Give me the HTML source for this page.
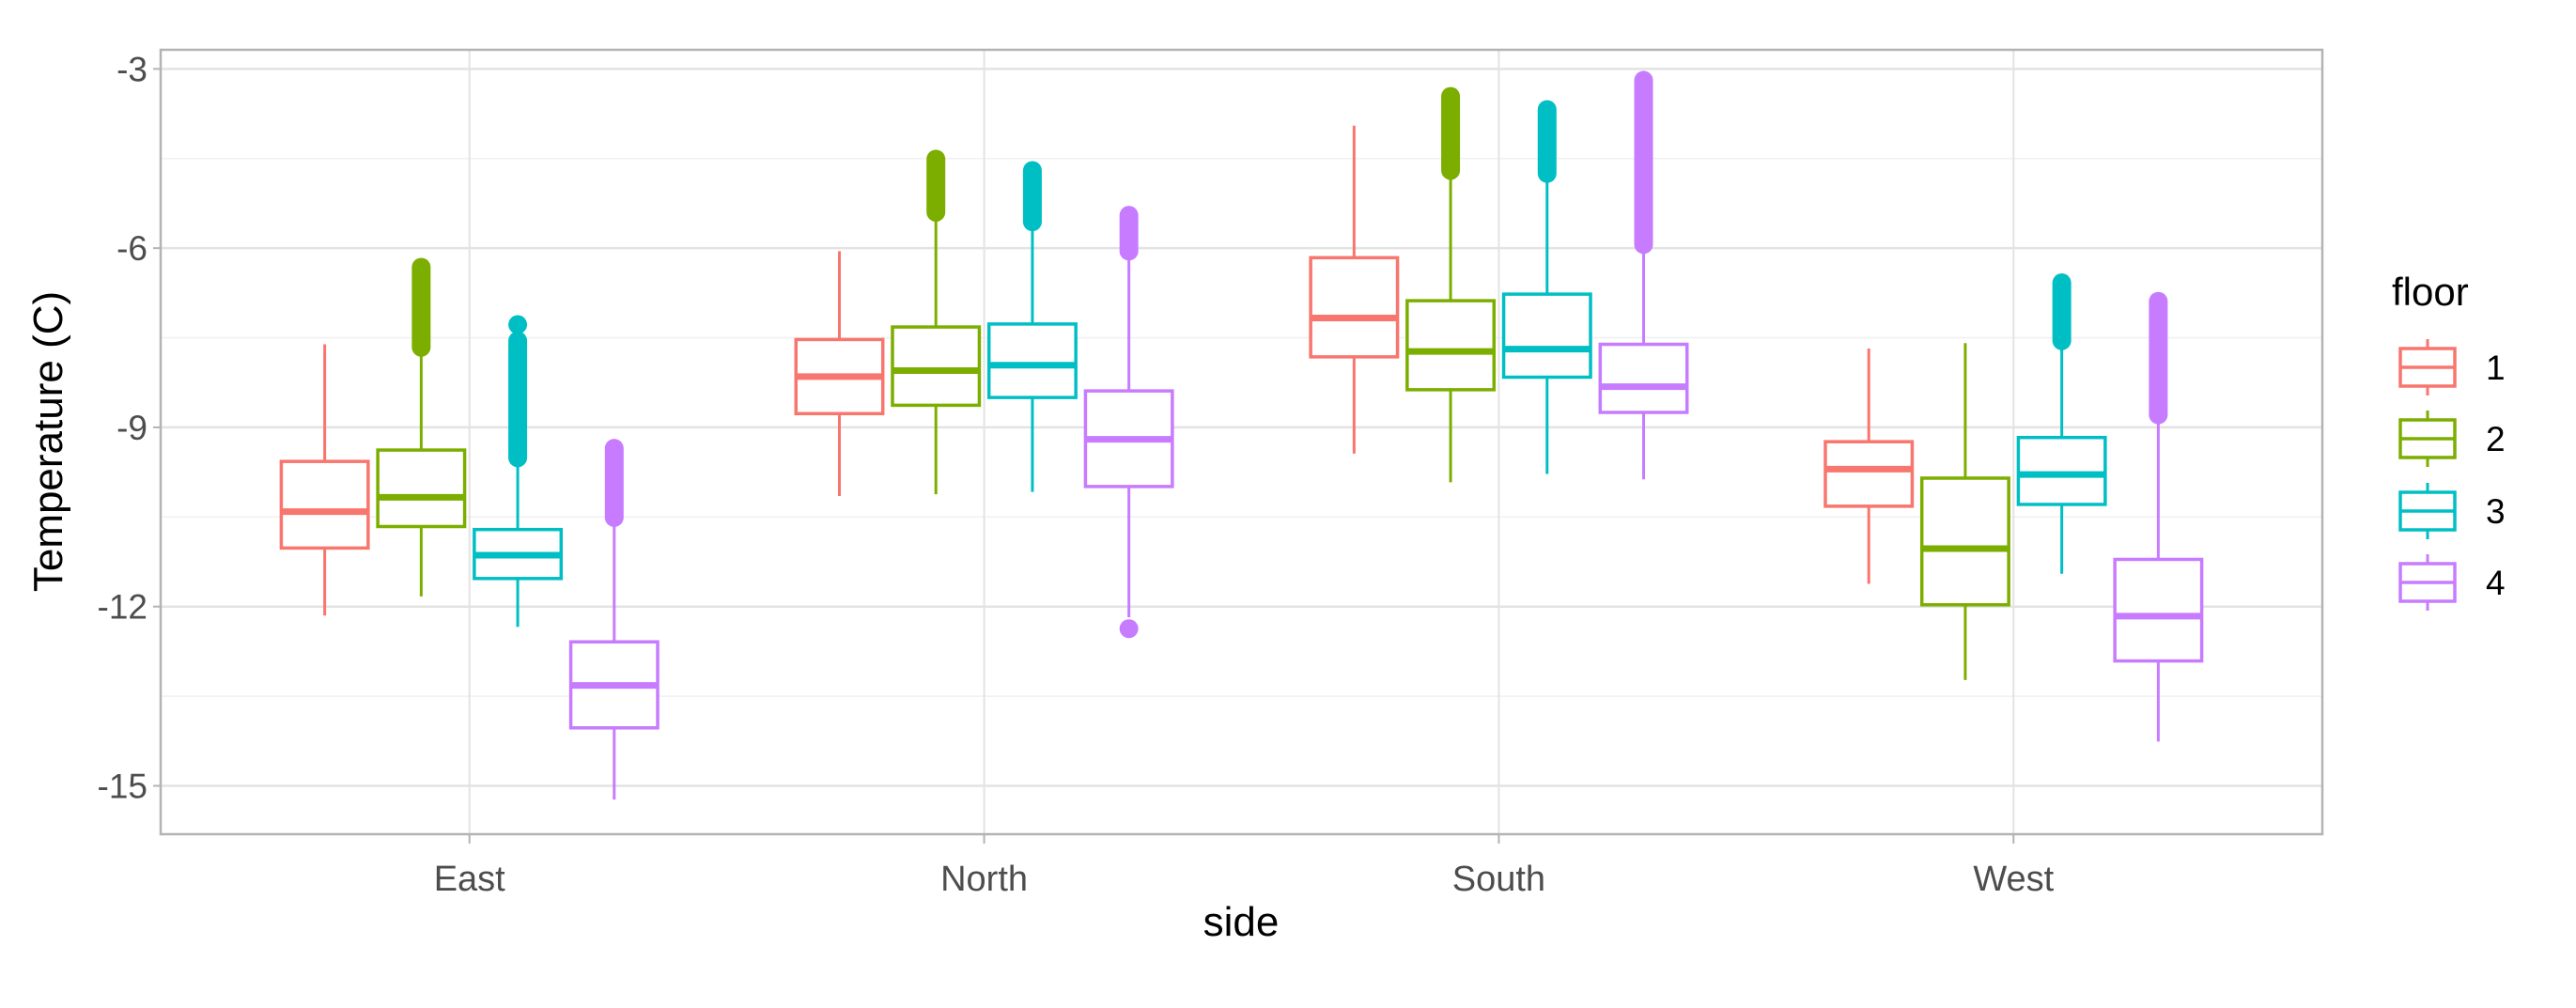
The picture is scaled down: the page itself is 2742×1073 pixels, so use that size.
<!DOCTYPE html>
<html><head><meta charset="utf-8"><style>
html,body{margin:0;padding:0;background:#fff;}
svg{display:block;font-family:"Liberation Sans",Arial,sans-serif;}
</style></head><body>
<svg id="chart" width="2742" height="1073" viewBox="0 0 2742 1073" xmlns="http://www.w3.org/2000/svg">
<g id="grid"></g>
<g id="marks"></g>
<g id="axes"></g>
<text transform="translate(66,470) rotate(-90)" text-anchor="middle" font-size="44" fill="#000">Temperature (C)</text>
<text x="1321" y="996" text-anchor="middle" font-size="44" fill="#000">side</text>
<g id="legend">
<text x="2546" y="325" font-size="42" fill="#000">floor</text>
</g>
</svg>
<script>
const categories = ["East","North","South","West"];
const floors = ["1","2","3","4"];
const colors = ["#F8766D","#7CAE00","#00BFC4","#C77CFF"];
// per floor arrays, indexed by category
const lowerWhisker = [[-12.15,-10.15,-9.44,-11.62],[-11.83,-10.12,-9.92,-13.23],[-12.34,-10.08,-9.78,-11.45],[-15.23,-12.18,-9.87,-14.26]];
const q1 = [[-11.02,-8.77,-7.82,-10.32],[-10.66,-8.63,-8.37,-11.97],[-11.53,-8.50,-8.16,-10.29],[-14.03,-9.99,-8.75,-12.91]];
const median = [[-10.41,-8.15,-7.17,-9.70],[-10.17,-8.05,-7.73,-11.03],[-11.14,-7.96,-7.69,-9.79],[-13.32,-9.20,-8.32,-12.16]];
const q3 = [[-9.57,-7.53,-6.16,-9.24],[-9.38,-7.32,-6.88,-9.85],[-10.71,-7.27,-6.77,-9.17],[-12.59,-8.39,-7.61,-11.21]];
const upperWhisker = [[-7.61,-6.05,-3.95,-7.68],[-7.66,-5.40,-4.70,-7.59],[-9.51,-5.56,-4.75,-7.55],[-10.51,-6.05,-5.94,-8.79]];
// dense outlier runs: [low, high] or null
const outlierRunLow = [[null,null,null,null],[-7.66,-5.40,-4.70,null],[-9.51,-5.56,-4.75,-7.55],[-10.51,-6.05,-5.94,-8.79]];
const outlierRunHigh = [[null,null,null,null],[-6.32,-4.51,-3.46,null],[-7.55,-4.70,-3.68,-6.58],[-9.35,-5.45,-3.19,-6.89]];
// isolated outliers: [floorIndex, categoryIndex, value]
const outlierPoints = [[2,0,-7.28],[3,1,-12.37]];
const yTicks = [-3,-6,-9,-12,-15];
const yMinor = [-4.5,-7.5,-10.5,-13.5];

const NS="http://www.w3.org/2000/svg";
const L=171,R=2472,T=53,B=888;
const yMin=-15.81,yMax=-2.68;
const y=v=>T+(yMax-v)/(yMax-yMin)*(B-T);
// discrete scale with 0.6 expansion on each side
const catStep=(R-L)/(categories.length-1+1.2);
const xCat=i=>L+catStep*(i+0.6);
const slot=catStep*0.75/floors.length;
const xBox=(c,f)=>xCat(c)+(f-1.5)*slot;
const bw=slot*0.9;
function mk(tag,attrs,parent){const e=document.createElementNS(NS,tag);for(const k in attrs)e.setAttribute(k,attrs[k]);parent.appendChild(e);return e;}
const grid=document.getElementById('grid'),marks=document.getElementById('marks'),axes=document.getElementById('axes'),legend=document.getElementById('legend');
mk('rect',{x:L,y:T,width:R-L,height:B-T,fill:'#fff'},grid);
yMinor.forEach(v=>{const l=mk('line',{x1:L,x2:R,y1:y(v),y2:y(v),stroke:'#f0f0f0','stroke-width':1.5},grid);

});
yTicks.forEach(v=>{const l=mk('line',{x1:L,x2:R,y1:y(v),y2:y(v),stroke:'#e3e3e3','stroke-width':2.5},grid);


const tk=mk('line',{x1:L-8,x2:L,y1:y(v),y2:y(v),stroke:'#b3b3b3','stroke-width':2},axes);


const t=mk('text',{x:L-14,y:y(v)+13,'text-anchor':'end','font-size':37,fill:'#4d4d4d'},axes);t.textContent=v;

});
categories.forEach((c,i)=>{const l=mk('line',{x1:xCat(i),x2:xCat(i),y1:T,y2:B,stroke:'#e3e3e3','stroke-width':2},grid);


const tk=mk('line',{x1:xCat(i),x2:xCat(i),y1:B,y2:B+10,stroke:'#b3b3b3','stroke-width':2},axes);


const t=mk('text',{x:xCat(i),y:948,'text-anchor':'middle','font-size':38,fill:'#4d4d4d'},axes);t.textContent=c;

});
const border=mk('rect',{x:L,y:T,width:R-L,height:B-T,fill:'none',stroke:'#b3b3b3','stroke-width':2.5},axes);


for(let f=0;f<floors.length;f++){for(let c=0;c<categories.length;c++){
 const g=mk('g',{},marks);
 
 
 const cx=xBox(c,f),col=colors[f];
 mk('line',{x1:cx,x2:cx,y1:y(lowerWhisker[f][c]),y2:y(q1[f][c]),stroke:col,'stroke-width':3},g);
 mk('line',{x1:cx,x2:cx,y1:y(upperWhisker[f][c]),y2:y(q3[f][c]),stroke:col,'stroke-width':3},g);
 mk('rect',{x:cx-bw/2,y:y(q3[f][c]),width:bw,height:y(q1[f][c])-y(q3[f][c]),fill:'#fff',stroke:col,'stroke-width':3.5},g);
 mk('line',{x1:cx-bw/2,x2:cx+bw/2,y1:y(median[f][c]),y2:y(median[f][c]),stroke:col,'stroke-width':7},g);
 if(outlierRunLow[f][c]!==null){const o=mk('line',{x1:cx,x2:cx,y1:y(outlierRunLow[f][c]),y2:y(outlierRunHigh[f][c]),stroke:col,'stroke-width':20,'stroke-linecap':'round'},g);
 
 }
}}
outlierPoints.forEach(p=>{const o=mk('circle',{cx:xBox(p[1],p[0]),cy:y(p[2]),r:10,fill:colors[p[0]]},marks);

});
const keyY=[391,467,544,620];
floors.forEach((fl,i)=>{const g=mk('g',{},legend);


const cx=2584,cy=keyY[i],col=colors[i];
mk('line',{x1:cx,x2:cx,y1:cy-30,y2:cy+30,stroke:col,'stroke-width':3},g);
mk('rect',{x:2555,y:cy-20,width:58,height:40,fill:'#fff',stroke:col,'stroke-width':3.5},g);
mk('line',{x1:2555,x2:2613,y1:cy,y2:cy,stroke:col,'stroke-width':3.5},g);
const t=mk('text',{x:2646,y:cy+13,'font-size':37,fill:'#000'},g);t.textContent=fl;});
</script>
</body></html>
